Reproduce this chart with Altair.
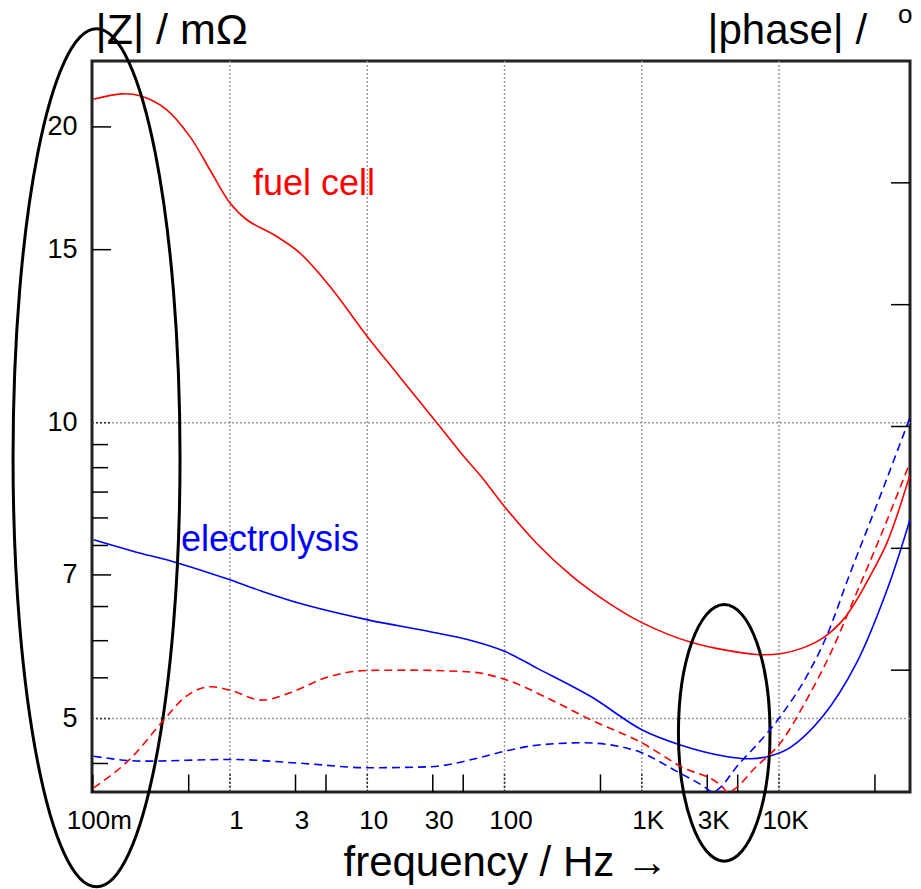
import altair as alt
import pandas as pd

# ---------------- data ----------------
# fuel cell |Z| in mOhm
fc_f = [0.101, 0.1625, 0.221, 0.346, 0.511, 0.715, 1.0, 1.323, 2.19, 3.236, 5.35, 10.0, 16.4, 32.1,
        51.5, 67.4, 101, 171, 310, 567, 1000, 2314, 6878, 10250, 14960, 20920, 29260, 37010, 43750,
        61220, 90000]
fc_z = [21.34, 21.61, 21.51, 20.82, 19.55, 18.08, 16.73, 16.09, 15.47, 14.88, 13.76, 12.24, 11.23, 10.0,
        9.21, 8.82, 8.20, 7.54, 6.98, 6.56, 6.26, 5.975, 5.81, 5.82, 5.90, 6.04, 6.30, 6.61, 6.89,
        7.55, 8.85]
# electrolysis |Z| in mOhm
el_f = [0.1014, 0.196, 0.414, 1.0, 1.69, 3.46, 10.1, 28.2, 58, 101, 171, 420, 1000, 1908, 3925, 6175,
        8600, 12040, 20920, 36830, 62230, 90000]
el_z = [7.60, 7.40, 7.20, 6.92, 6.74, 6.53, 6.30, 6.13, 6.00, 5.85, 5.63, 5.27, 4.87, 4.70, 4.58, 4.55,
        4.58, 4.67, 5.03, 5.70, 6.80, 7.97]
# fuel cell |phase| in degrees
fcp_f = [0.1014, 0.196, 0.316, 0.481, 0.732, 1.05, 1.69, 2.74, 4.98, 10.1, 21.0, 58, 101, 229, 420, 1000,
         1908, 3926, 4180, 6878, 10250, 15920, 23530, 35810, 54450, 90000]
fcp_p = [0.34, 2.94, 5.68, 7.87, 8.64, 8.28, 7.54, 8.14, 9.38, 9.98, 10.0, 9.84, 9.24, 7.45, 5.95, 4.04,
         2.12, 0.34, 0.0, 2.12, 4.04, 7.59, 11.29, 16.05, 20.9, 27.05]
# electrolysis |phase| in degrees
elp_f = [0.1014, 0.235, 1.0, 3.46, 10.1, 28.2, 69.6, 101, 171, 373, 567, 1000, 1698, 3054, 3233, 5197,
         10250, 15920, 22000, 32910, 54450, 90000]
elp_p = [2.94, 2.53, 2.67, 2.34, 1.99, 2.07, 2.89, 3.35, 3.84, 4.04, 3.90, 3.22, 1.85, 0.2, 0.0, 2.40,
         6.22, 9.51, 12.68, 17.94, 24.26, 30.75]

series_names = ["fuel cell", "electrolysis"]
series_colors = ["#ff0000", "#0000ff"]

x_tick_values = [0.1, 1, 3, 10, 30, 100, 1000, 3000, 10000]
x_tick_labels = ["100m", "1", "3", "10", "30", "100", "1K", "3K", "10K"]
x_minor_ticks = [0.1, 0.5, 3, 5, 30, 50, 500, 3000, 5000, 50000]
x_grid = [1, 10, 100, 1000, 10000]

y_tick_values = [5, 7, 10, 15, 20]
y_major_ticks = [7, 15, 20]
y_minor_ticks = [4.5, 5.5, 6, 6.5, 7.5, 8, 8.5, 9, 9.5]
y_grid = [5, 10]
phase_ticks = [10, 20, 30, 40, 50]

label_text = ["fuel cell", "electrolysis"]
label_f = [1.471, 0.4395]
label_z = [17.06, 7.41]

ellipse_name = ["left", "right"]
ellipse_f = [0.1065, 3988]
ellipse_z = [9.21, 4.835]

# ---------------- layout ----------------
W, H = 818, 731
FONT = "Liberation Sans"
xs = alt.Scale(type="log", domain=[0.0987, 90000], nice=False)
ys = alt.Scale(type="log", domain=[4.209, 23.34], nice=False)
ps = alt.Scale(type="linear", domain=[0, 60], nice=False, zero=False)

label_expr = "{" + ",".join(f"'{v}':'{t}'" for v, t in zip(x_tick_values, x_tick_labels)) + "}[datum.value]"

X_AX = alt.Axis(
    values=x_tick_values, labelExpr=label_expr, ticks=False, tickSize=0, domain=False, grid=False,
    labelFontSize=26, labelFont=FONT, labelColor="black", labelPadding=15, labelOffset=6,
    labelFlush=False, labelOverlap=False,
    title="frequency / Hz \u2192", titleFontSize=42, titleFont=FONT, titleFontWeight="normal",
    titleColor="black", titleX=251, titleY=83, titleAlign="left", titleBaseline="alphabetic")
Y_AX = alt.Axis(
    orient="left", values=y_tick_values, ticks=False, tickSize=0, domain=False, grid=False,
    labelFontSize=27, labelFont=FONT, labelColor="black", labelPadding=15, labelFlush=False,
    labelOverlap=False,
    title="|Z| / m\u03a9", titleFontSize=43, titleFont=FONT, titleFontWeight="normal",
    titleColor="black", titleAngle=0, titleX=3, titleY=-18, titleAlign="left",
    titleBaseline="alphabetic")
P_AX = alt.Axis(
    orient="right", labels=False, ticks=False, tickSize=0, domain=False, grid=False,
    title="|phase| /", titleFontSize=42, titleFont=FONT, titleFontWeight="normal",
    titleColor="black", titleAngle=0, titleX=-203, titleY=-18, titleAlign="left",
    titleBaseline="alphabetic")


def X(field):
    return alt.X(field, type="quantitative", scale=xs, axis=X_AX)


def Y(field):
    return alt.Y(field, type="quantitative", scale=ys, axis=Y_AX)


def P(field):
    return alt.Y(field, type="quantitative", scale=ps, axis=P_AX)


def ellipse_path(r):
    k = 0.5523
    return (f"M {r},0 C {r},{k} {r*k:.4f},1 0,1 C {-r*k:.4f},1 {-r},{k} {-r},0 "
            f"C {-r},{-k} {-r*k:.4f},-1 0,-1 C {r*k:.4f},-1 {r},{-k} {r},0 Z")


ellipse_shapes = [ellipse_path(0.1946), ellipse_path(0.357)]
ellipse_sizes = [858.0 ** 2, 256.6 ** 2]

# ---------------- tables ----------------
solid = pd.concat([
    pd.DataFrame({"f": fc_f, "v": fc_z, "s": "fuel cell"}),
    pd.DataFrame({"f": el_f, "v": el_z, "s": "electrolysis"}),
])
dashed = pd.concat([
    pd.DataFrame({"f": fcp_f, "v": fcp_p, "s": "fuel cell"}),
    pd.DataFrame({"f": elp_f, "v": elp_p, "s": "electrolysis"}),
])
color = alt.Color("s:N", scale=alt.Scale(domain=series_names, range=series_colors), legend=None)

grid_style = dict(color="#999999", strokeWidth=1.5, strokeDash=[2, 2])

vgrid = alt.Chart(pd.DataFrame({"f": x_grid})).mark_rule(**grid_style).encode(x=X("f"))
hgrid = alt.Chart(pd.DataFrame({"z": y_grid})).mark_rule(**grid_style).encode(y=Y("z"))

xgrid_ticks = alt.Chart(pd.DataFrame({"f": x_grid})).mark_rule(
    color="#333333", strokeWidth=1.5, strokeDash=[2, 2]).encode(
    x=X("f"), y=alt.value(H), y2=alt.value(H - 18))
ygrid_ticks = alt.Chart(pd.DataFrame({"z": y_grid})).mark_rule(
    color="#333333", strokeWidth=1.5, strokeDash=[2, 2]).encode(
    y=Y("z"), x=alt.value(0), x2=alt.value(19))

xticks = alt.Chart(pd.DataFrame({"f": x_minor_ticks})).mark_rule(color="black", strokeWidth=1.5).encode(
    x=X("f"), y=alt.value(H), y2=alt.value(H - 17.5))
yticks_major = alt.Chart(pd.DataFrame({"z": y_major_ticks})).mark_rule(color="black", strokeWidth=1.5).encode(
    y=Y("z"), x=alt.value(0), x2=alt.value(19))
yticks_minor = alt.Chart(pd.DataFrame({"z": y_minor_ticks})).mark_rule(color="black", strokeWidth=1.5).encode(
    y=Y("z"), x=alt.value(0), x2=alt.value(16))

solid_lines = alt.Chart(solid).mark_line(strokeWidth=1.6, interpolate="catmull-rom", clip=True).encode(
    x=X("f"), y=Y("v"), color=color, detail="s:N")

labels = alt.Chart(pd.DataFrame({"t": label_text, "f": label_f, "z": label_z, "s": series_names})).mark_text(
    fontSize=36, font=FONT, align="left", baseline="alphabetic").encode(
    x=X("f"), y=Y("z"), text="t:N", color=color)

ellipses = alt.Chart(pd.DataFrame({"n": ellipse_name, "f": ellipse_f, "z": ellipse_z,
                                   "sz": ellipse_sizes})).mark_point(
    filled=False, color="black", strokeWidth=3, opacity=1).encode(
    x=X("f"), y=Y("z"),
    shape=alt.Shape("n:N", scale=alt.Scale(domain=ellipse_name, range=ellipse_shapes), legend=None),
    size=alt.Size("sz:Q", scale=None, legend=None))

left_group = alt.layer(vgrid, hgrid, xgrid_ticks, ygrid_ticks, xticks, yticks_major, yticks_minor,
                       solid_lines, labels, ellipses)

dashed_lines = alt.Chart(dashed).mark_line(strokeWidth=1.6, strokeDash=[8, 5], interpolate="monotone",
                                           clip=True).encode(
    x=X("f"), y=P("v"), color=color, detail="s:N")

pticks = alt.Chart(pd.DataFrame({"p": phase_ticks})).mark_rule(color="black", strokeWidth=1.5).encode(
    y=P("p"), x=alt.value(W), x2=alt.value(W - 19))

degree = alt.Chart(pd.DataFrame({"t": ["o"]})).mark_text(
    fontSize=26, font=FONT, align="left", baseline="alphabetic", color="black").encode(
    text="t:N", x=alt.value(806), y=alt.value(-38))

right_group = alt.layer(dashed_lines, pticks, degree)

chart = alt.layer(left_group, right_group).resolve_scale(y="independent").properties(
    width=W, height=H,
    autosize=alt.AutoSizeParams(type="none"),
    padding={"left": 92, "top": 61, "right": 11, "bottom": 97},
    background="white",
).configure_view(stroke="#222222", strokeWidth=3)

chart.save("out.html", embed_options={"renderer": "svg", "actions": False})
